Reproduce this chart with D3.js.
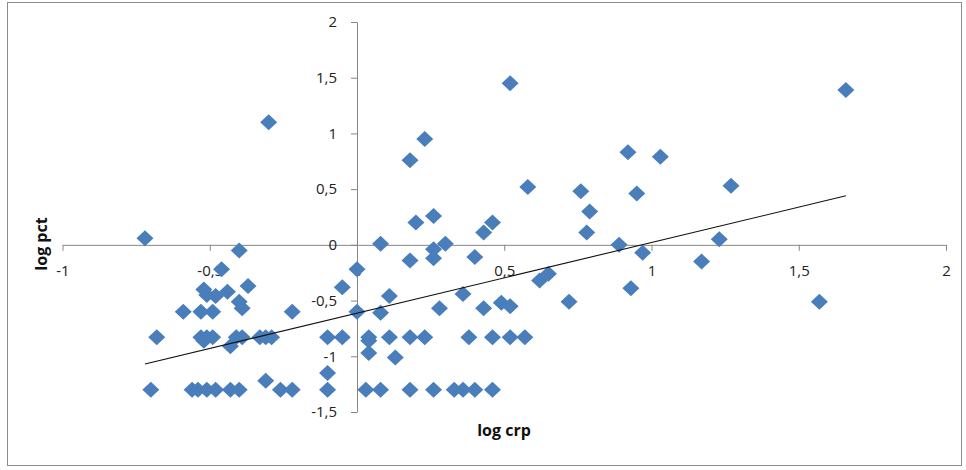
<!DOCTYPE html>
<html>
<head>
<meta charset="utf-8">
<script src="https://cdn.jsdelivr.net/npm/d3@7"></script>
<style>
  body { margin: 0; background: #fff; }
  svg { display: block; font-family: "Open Sans", "Noto Sans", sans-serif; }
  .tick-label { font-size: 15px; fill: #222; }
  .axis-title { font-size: 16px; font-weight: 700; fill: #111; }
</style>
</head>
<body>
<svg id="chart" width="966" height="470"></svg>
<script>
// Data: log crp (x) vs log pct (y)
const logCrp = [
  -0.30, 0.52, 0.23, 0.18, 0.58, 0.76, 1.66, 0.92, 1.03, 0.95,
  1.27, 0.79, 0.78, 1.23, 0.89, 0.97, 1.17, 0.62, 0.65, 0.93,
  0.72, 1.57, 0.49, 0.52, 0.20, 0.26, 0.43, 0.46, 0.08, 0.26,
  0.30, 0.18, 0.26, 0.40, 0.00, -0.05, 0.11, 0.36, 0.00, 0.08,
  0.28, 0.43, -0.72, -0.40, -0.46,
  -0.52, -0.51, -0.48, -0.44, -0.40, -0.39, -0.37, -0.53, -0.49, -0.59, -0.22,
  -0.68, -0.53, -0.51, -0.49, -0.41, -0.39, -0.33, -0.31, -0.29, -0.10, -0.05,
  -0.52, -0.43,
  0.04, 0.11, 0.18, 0.23, 0.38, 0.46, 0.52, 0.57, 0.04,
  0.04, 0.13, -0.10, -0.31,
  -0.70, -0.56, -0.54, -0.51, -0.48, -0.43, -0.40, -0.26, -0.22, -0.10,
  0.03, 0.08, 0.18, 0.26, 0.33, 0.36, 0.40, 0.46
];
const logPct = [
  1.10, 1.45, 0.95, 0.76, 0.52, 0.48, 1.39, 0.83, 0.79, 0.46,
  0.53, 0.30, 0.11, 0.05, 0.00, -0.07, -0.15, -0.32, -0.26, -0.39,
  -0.51, -0.51, -0.52, -0.55, 0.20, 0.26, 0.11, 0.20, 0.01, -0.04,
  0.01, -0.14, -0.12, -0.11, -0.22, -0.38, -0.46, -0.44, -0.60, -0.61,
  -0.57, -0.57, 0.06, -0.05, -0.22,
  -0.40, -0.45, -0.46, -0.42, -0.51, -0.57, -0.37, -0.60, -0.60, -0.60, -0.60,
  -0.83, -0.83, -0.83, -0.83, -0.83, -0.83, -0.83, -0.83, -0.83, -0.83, -0.83,
  -0.86, -0.91,
  -0.83, -0.83, -0.83, -0.83, -0.83, -0.83, -0.83, -0.83, -0.86,
  -0.97, -1.01, -1.15, -1.22,
  -1.30, -1.30, -1.30, -1.30, -1.30, -1.30, -1.30, -1.30, -1.30, -1.30,
  -1.30, -1.30, -1.30, -1.30, -1.30, -1.30, -1.30, -1.30
];
// Linear trend line end points
const trendX = [-0.72, 1.66];
const trendY = [-1.07, 0.44];
// Tick values
const xTicks = [-1, -0.5, 0, 0.5, 1, 1.5, 2];
const yTicks = [-1.5, -1, -0.5, 0, 0.5, 1, 1.5, 2];

const fmt = v => String(v).replace('.', ',');

const svg = d3.select('#chart');

// outer frame
svg.append('rect')
    .attr('x', 7.5).attr('y', 2.5)
    .attr('width', 954).attr('height', 463)
    .attr('fill', '#fff')
    .attr('stroke', '#8c8c8c');

const x = d3.scaleLinear().domain([-1, 2]).range([62.5, 946]);
const y = d3.scaleLinear().domain([-1.5, 2]).range([412, 22]);

const axisColor = '#868686';

// x axis (at y = 0)
const xAxis = svg.append('g')
    .attr('transform', `translate(0,${y(0)})`)
    .call(d3.axisBottom(x).tickValues(xTicks).tickSize(6).tickSizeOuter(0).tickFormat(fmt));
xAxis.select('.domain').attr('stroke', axisColor);
xAxis.selectAll('.tick line').attr('stroke', axisColor);
xAxis.selectAll('.tick text')
    .attr('class', 'tick-label')
    .attr('y', 21)
    .attr('dy', '0.71em')
    .style('font-family', null)
    .attr('font-size', null)
    .attr('fill', null);
xAxis.attr('font-family', null).attr('font-size', null);

// y axis (at x = 0)
const yAxis = svg.append('g')
    .attr('transform', `translate(${x(0)},0)`)
    .call(d3.axisLeft(y).tickValues(yTicks).tickSize(6).tickSizeOuter(0).tickFormat(fmt));
yAxis.select('.domain').attr('stroke', axisColor);
yAxis.selectAll('.tick line').attr('stroke', axisColor);
yAxis.selectAll('.tick text')
    .attr('class', 'tick-label')
    .attr('x', -20)
    .attr('fill', null);
yAxis.attr('font-family', null).attr('font-size', null);

// markers
const points = logCrp.map((v, i) => ({ x: v, y: logPct[i] }));
const diamond = 'M0,-8L8.5,0L0,8L-8.5,0Z';

svg.append('g')
  .selectAll('path')
  .data(points)
  .join('path')
    .attr('d', diamond)
    .attr('transform', d => `translate(${x(d.x)},${y(d.y)})`)
    .attr('fill', '#4a7ebb');

// trend line
svg.append('line')
    .attr('x1', x(trendX[0])).attr('y1', y(trendY[0]))
    .attr('x2', x(trendX[1])).attr('y2', y(trendY[1]))
    .attr('stroke', '#111')
    .attr('stroke-width', 1.1);

// axis titles
svg.append('text')
    .attr('class', 'axis-title')
    .attr('x', 504).attr('y', 436)
    .attr('text-anchor', 'middle')
    .text('log crp');

svg.append('text')
    .attr('class', 'axis-title')
    .attr('transform', 'translate(47,244) rotate(-90)')
    .attr('text-anchor', 'middle')
    .text('log pct');
</script>
</body>
</html>
